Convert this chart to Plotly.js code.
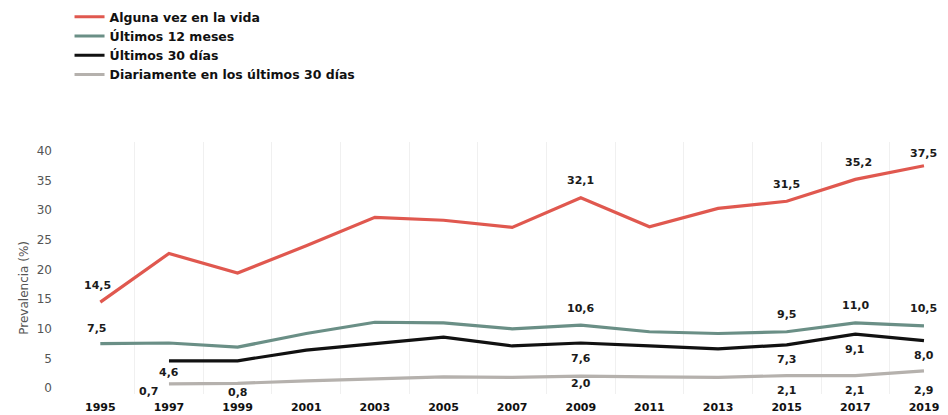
<!DOCTYPE html>
<html>
<head>
<meta charset="utf-8">
<script src="https://cdn.plot.ly/plotly-3.0.1.min.js"></script>
<style>html,body{margin:0;padding:0;background:#fff;}#chart{width:948px;height:415px;}</style>
</head>
<body>
<div id="chart"></div>
<script>
const years = ["1995","1997","1999","2001","2003","2005","2007","2009","2011","2013","2015","2017","2019"];
const seriesNames = ["Alguna vez en la vida","Últimos 12 meses","Últimos 30 días","Diariamente en los últimos 30 días"];
const alguna   = [14.5, 22.7, 19.4, 24.0, 28.8, 28.3, 27.1, 32.1, 27.2, 30.3, 31.5, 35.2, 37.5];
const meses12  = [7.5, 7.6, 6.9, 9.2, 11.1, 11.0, 10.0, 10.6, 9.5, 9.2, 9.5, 11.0, 10.5];
const dias30   = [null, 4.6, 4.6, 6.4, 7.5, 8.6, 7.1, 7.6, 7.1, 6.6, 7.3, 9.1, 8.0];
const diario   = [null, 0.7, 0.8, 1.2, 1.5, 1.9, 1.8, 2.0, 1.9, 1.8, 2.1, 2.1, 2.9];
// which points carry a value label
const labAlguna  = ["1995","2009","2015","2017","2019"];
const lab12      = ["1995","2009","2015","2017","2019"];
const lab30      = ["1997","2009","2015","2017","2019"];
const labDiario  = ["1997","1999","2009","2015","2017","2019"];

const colors = ["#e0584f","#6a8f86","#111111","#b5b1ad"];
const fontFam = "'DejaVu Sans', Lato, sans-serif";

function fmt(v){ return v.toFixed(1).replace(".", ","); }

const data = [];
const vals = [alguna, meses12, dias30, diario];
vals.forEach((v,i)=>{
  data.push({x: years, y: v, type:"scatter", mode:"lines", name: seriesNames[i],
    line:{color: colors[i], width: 3.2}, connectgaps:false, hoverinfo:"skip"});
});

// label placement (pixel shifts), default per series plus a few overrides
const labelSets = [
  {v: alguna,  which: labAlguna, dy: 17, over: {"1995":{dx:-3}, "2017":{dx:3}, "2019":{dy:12}}},
  {v: meses12, which: lab12,     dy: 17, over: {"1995":{dx:-3, dy:15}}},
  {v: dias30,  which: lab30,     dy: -15, over: {"1997":{dy:-12}}},
  {v: diario,  which: labDiario, dy: -15, over: {"1997":{dx:-20, dy:-8}, "1999":{dy:-9}, "2009":{dy:-7}, "2019":{dy:-20}}}
];
const annotations = [];
labelSets.forEach(s=>{
  s.which.forEach(yr=>{
    const k = years.indexOf(yr);
    const o = s.over[yr] || {};
    annotations.push({x: k, y: s.v[k], xref:"x", yref:"y", text: fmt(s.v[k]), showarrow:false,
      xanchor:"center", yanchor:"middle", xshift: o.dx||0, yshift: (o.dy!==undefined?o.dy:s.dy),
      font:{family: fontFam, size: 11, color:"#1a1a1a", weight: 700}});
  });
});
annotations.push({text: "Prevalencia (%)", xref: "paper", yref: "paper", x: -0.047, y: 0.42, textangle: -90,
    showarrow: false, font: {family: fontFam, size: 12, color: "#555"}, xanchor: "center", yanchor: "middle"});

const layout = {
  width: 948, height: 415,
  margin: {l: 66, r: 0, t: 142, b: 21},
  paper_bgcolor: "#ffffff", plot_bgcolor: "#ffffff",
  font: {family: fontFam, color: "#222"},
  showlegend: true,
  legend: {x: 0.004, xanchor: "left", y: 1.555, yanchor: "top", bgcolor: "rgba(0,0,0,0)",
    font: {family: fontFam, size: 12.5, color: "#111", weight: 700}, tracegroupgap: 0, itemwidth: 30},
  xaxis: {type: "category", range: [-0.5, 12.35], tickson: "boundaries", showgrid: true, gridcolor: "#f0f0f0", gridwidth: 1,
    zeroline: false, showline: false, ticks: "", ticklen: 0, ticklabelstandoff: 5,
    tickfont: {family: fontFam, size: 11, color: "#111", weight: 700}},
  yaxis: {range: [-1, 41.5], tickvals: [0,5,10,15,20,25,30,35,40], showgrid: false, zeroline: false, showline: false,
    ticks: "", ticklabelstandoff: 13,
    tickfont: {family: fontFam, size: 12, color: "#555"}},
  annotations: annotations
};
Plotly.newPlot("chart", data, layout, {staticPlot: true, displayModeBar: false});
</script>
</body>
</html>
